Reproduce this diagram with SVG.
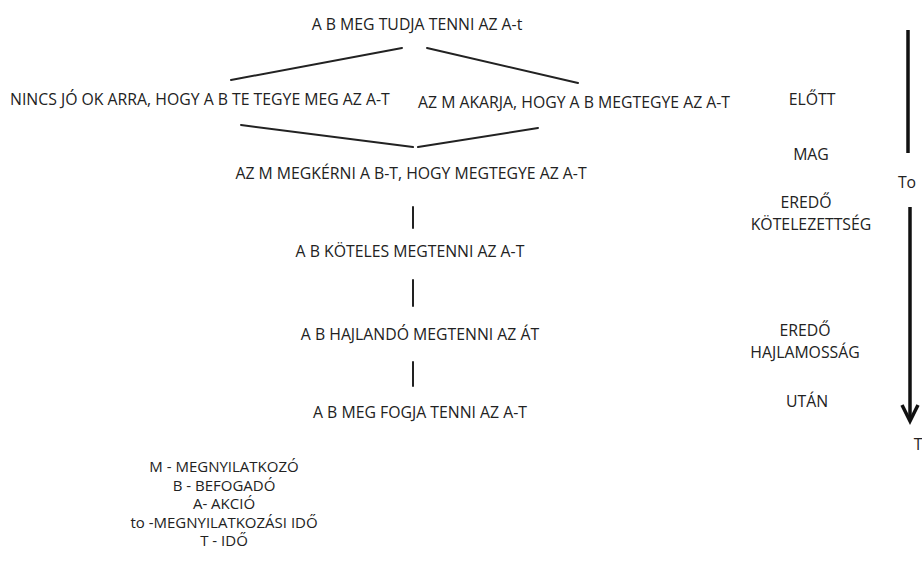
<svg xmlns="http://www.w3.org/2000/svg" width="922" height="566" viewBox="0 0 922 566">
<style>
text{font-family:"Open Sans","Noto Sans",sans-serif;font-size:15.8px;fill:#222}
.m{text-anchor:middle}
.lg{font-size:15px}
.ln{stroke:#222;stroke-width:2;fill:none;stroke-linecap:round}
.tl{stroke:#111;stroke-width:3.5;fill:none}
</style>
<rect width="922" height="566" fill="#fff"/>
<g id="connectors">
<path class="ln" d="M231,80 L402,48"/>
<path class="ln" d="M427,48 L578,83"/>
<path class="ln" d="M241,125 L413,147"/>
<path class="ln" d="M418,147 L538,128"/>
<path class="ln" d="M413,207 L413,228"/>
<path class="ln" d="M413,280 L413,306"/>
<path class="ln" d="M413,362 L413,386"/>
</g>
<g id="n-title"><text class="m" x="417" y="30">A B MEG TUDJA TENNI AZ A-t</text></g>
<g id="n-left"><text x="10" y="105">NINCS JÓ OK ARRA, HOGY A B TE TEGYE MEG AZ A-T</text></g>
<g id="n-right"><text x="418" y="108">AZ M AKARJA, HOGY A B MEGTEGYE AZ A-T</text></g>
<g id="n-kerni"><text class="m" x="411" y="179">AZ M MEGKÉRNI A B-T, HOGY MEGTEGYE AZ A-T</text></g>
<g id="n-koteles"><text class="m" x="410" y="257">A B KÖTELES MEGTENNI AZ A-T</text></g>
<g id="n-hajlando"><text class="m" x="420" y="340">A B HAJLANDÓ MEGTENNI AZ ÁT</text></g>
<g id="n-fogja"><text class="m" x="420" y="418">A B MEG FOGJA TENNI AZ A-T</text></g>
<g id="timeline">
<text class="m" x="812" y="105">ELŐTT</text>
<text class="m" x="811" y="160">MAG</text>
<text class="m" x="806" y="208">EREDŐ</text>
<text class="m" x="811" y="230">KÖTELEZETTSÉG</text>
<text class="m" x="805" y="336">EREDŐ</text>
<text class="m" x="805" y="358">HAJLAMOSSÁG</text>
<text class="m" x="807" y="407">UTÁN</text>
<path class="tl" d="M908,30 L908,153"/>
<text class="m" x="907" y="188">To</text>
<path class="tl" d="M910,207 L910,420"/>
<path class="tl" d="M902,405 L910,421 L918,405" stroke-linejoin="miter"/>
<text class="m" x="918" y="450">T</text>
</g>
<g id="legend">
<text class="m lg" x="224" y="472">M - MEGNYILATKOZÓ</text>
<text class="m lg" x="224" y="490.5">B - BEFOGADÓ</text>
<text class="m lg" x="224" y="509">A- AKCIÓ</text>
<text class="m lg" x="224" y="527.5">to -MEGNYILATKOZÁSI IDŐ</text>
<text class="m lg" x="224" y="546">T - IDŐ</text>
</g>
</svg>
